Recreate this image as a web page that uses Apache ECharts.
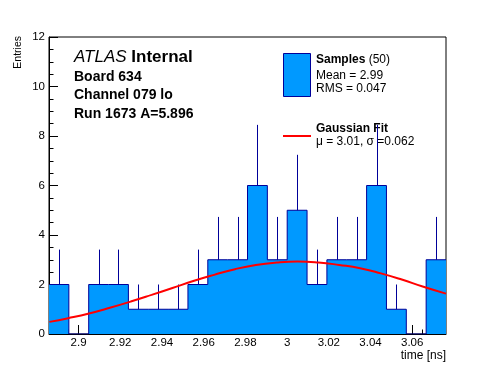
<!DOCTYPE html>
<html><head><meta charset="utf-8">
<script src="https://cdn.jsdelivr.net/npm/echarts@6/dist/echarts.min.js"></script>
<style>html,body{margin:0;padding:0;background:#fff}#c{width:496px;height:372px}</style>
</head><body><div id="c"></div>
<script>
// Histogram binning
const binMin = 2.8858;
const binMax = 3.0762;
const binCount = 20;
// Entries per bin
const counts = [2,0,2,2,1,1,1,2,3,3,6,3,5,2,3,3,6,1,0,3];
// Upper end of error bars (null = none)
const errTops = [3.41,null,3.41,3.41,2,2,2,3.41,4.73,4.73,8.45,4.73,7.24,3.41,4.73,4.73,8.45,2,null,4.73];
// Gaussian fit curve
const fitX = [2.886,2.895,2.905,2.915,2.925,2.935,2.945,2.955,2.965,2.975,2.985,2.995,3.005,3.015,3.025,3.035,3.045,3.055,3.065,3.0762];
const fitY = [0.49,0.64,0.83,1.06,1.31,1.58,1.86,2.14,2.39,2.62,2.79,2.89,2.93,2.89,2.79,2.66,2.45,2.20,1.92,1.63];
// Axis ticks
const xTickVals = [2.9,2.92,2.94,2.96,2.98,3.0,3.02,3.04,3.06];
const xMinorStart = 2.89, xMinorEnd = 3.075, xMinorStep = 0.005;
const yMin = 0, yMax = 12, yStep = 2;

const FONT = 'Liberation Sans, Arial, Helvetica, sans-serif';
const binW = (binMax - binMin) / binCount;

const histData = counts.map((c, i) => [binMin + i * binW, c]);
histData.push([binMax, counts[counts.length - 1]]);

const errData = [];
counts.forEach((c, i) => {
  if (errTops[i] != null) errData.push([binMin + (i + 0.5) * binW, c, errTops[i]]);
});

const fitData = fitX.map((x, i) => [x, fitY[i]]);

const minorVals = [];
for (let v = xMinorStart; v <= xMinorEnd + 1e-9; v += xMinorStep) minorVals.push(+v.toFixed(3));

const chart = echarts.init(document.getElementById('c'), null, {renderer: 'canvas'});
chart.setOption({
  animation: false,
  backgroundColor: '#fff',
  grid: {left: 49, right: 50, top: 37, bottom: 38, show: true, borderColor: '#000', borderWidth: 1, backgroundColor: 'transparent'},
  xAxis: [{
    type: 'value', min: binMin, max: binMax,
    axisLine: {show: true, onZero: false, lineStyle: {color: '#000', width: 1}},
    axisTick: {show: true, inside: true, length: 9, customValues: xTickVals, lineStyle: {color: '#000'}},
    axisLabel: {customValues: xTickVals, color: '#000', fontSize: 11.5, fontFamily: FONT, margin: 3,
      formatter: v => String(+(+v).toFixed(2))},
    splitLine: {show: false}
  }, {
    type: 'value', min: binMin, max: binMax, position: 'bottom',
    axisLine: {show: false},
    axisTick: {show: true, inside: true, length: 4.5, customValues: minorVals, lineStyle: {color: '#000'}},
    axisLabel: {show: false},
    splitLine: {show: false}
  }],
  yAxis: {
    type: 'value', min: yMin, max: yMax, interval: yStep,
    axisLine: {show: true, onZero: false, lineStyle: {color: '#000', width: 1}},
    axisTick: {show: true, inside: true, length: 9, lineStyle: {color: '#000'}},
    minorTick: {show: true, splitNumber: 4, length: 4.5, lineStyle: {color: '#000'}},
    axisLabel: {color: '#000', fontSize: 11.5, fontFamily: FONT, margin: 4},
    splitLine: {show: false}
  },
  series: [{
    type: 'line', step: 'end', data: histData, symbol: 'none', z: 2,
    lineStyle: {color: '#000099', width: 1},
    areaStyle: {color: '#0099ff', opacity: 1},
    silent: true
  }, {
    type: 'custom', data: errData, z: 3, silent: true,
    renderItem: (params, api) => {
      const p0 = api.coord([api.value(0), api.value(1)]);
      const p1 = api.coord([api.value(0), api.value(2)]);
      const x = Math.round(p0[0]) + 0.5;
      return {type: 'line', shape: {x1: x, y1: p0[1], x2: x, y2: p1[1]}, style: {stroke: '#000099', lineWidth: 1}};
    }
  }, {
    type: 'line', data: fitData, smooth: true, symbol: 'none', z: 4,
    lineStyle: {color: '#ff0000', width: 2},
    silent: true
  }],
  graphic: [
    {type: 'text', x: 18, y: 36, rotation: Math.PI / 2,
      style: {text: 'Entries', font: '10.5px ' + FONT, fill: '#000', align: 'right', verticalAlign: 'middle'}},
    {type: 'text', x: 446, y: 356,
      style: {text: 'time [ns]', font: '12px ' + FONT, fill: '#000', align: 'right', verticalAlign: 'middle'}},
    {type: 'text', x: 74, y: 57.5,
      style: {text: '{a|ATLAS} {b|Internal}', verticalAlign: 'middle', fill: '#000',
        rich: {a: {fontStyle: 'italic', fontSize: 17, fontFamily: FONT, fill: '#000'},
               b: {fontWeight: 'bold', fontSize: 17, fontFamily: FONT, fill: '#000'}},
        font: '17px ' + FONT}},
    {type: 'text', x: 74, y: 77, style: {text: 'Board 634', font: 'bold 14px ' + FONT, fill: '#000', verticalAlign: 'middle'}},
    {type: 'text', x: 74, y: 95.5, style: {text: 'Channel 079 lo', font: 'bold 14px ' + FONT, fill: '#000', verticalAlign: 'middle'}},
    {type: 'text', x: 74, y: 114, style: {text: 'Run 1673 A=5.896', font: 'bold 14px ' + FONT, fill: '#000', verticalAlign: 'middle'}},
    {type: 'rect', shape: {x: 283.5, y: 53.5, width: 27, height: 43}, style: {fill: '#0099ff', stroke: '#000099', lineWidth: 1}},
    {type: 'text', x: 316, y: 60,
      style: {text: '{b|Samples} (50)', font: '12px ' + FONT, fill: '#000', verticalAlign: 'middle',
        rich: {b: {fontWeight: 'bold', fontSize: 12, fontFamily: FONT, fill: '#000'}}}},
    {type: 'text', x: 316, y: 75.5, style: {text: 'Mean = 2.99', font: '12px ' + FONT, fill: '#000', verticalAlign: 'middle'}},
    {type: 'text', x: 316, y: 88.5, style: {text: 'RMS = 0.047', font: '12px ' + FONT, fill: '#000', verticalAlign: 'middle'}},
    {type: 'line', shape: {x1: 283, y1: 136, x2: 311, y2: 136}, style: {stroke: '#ff0000', lineWidth: 2}},
    {type: 'text', x: 316, y: 129, style: {text: 'Gaussian Fit', font: 'bold 12px ' + FONT, fill: '#000', verticalAlign: 'middle'}},
    {type: 'text', x: 316, y: 142, style: {text: 'μ = 3.01, σ =0.062', font: '12px ' + FONT, fill: '#000', verticalAlign: 'middle'}}
  ]
});
</script>
</body></html>
